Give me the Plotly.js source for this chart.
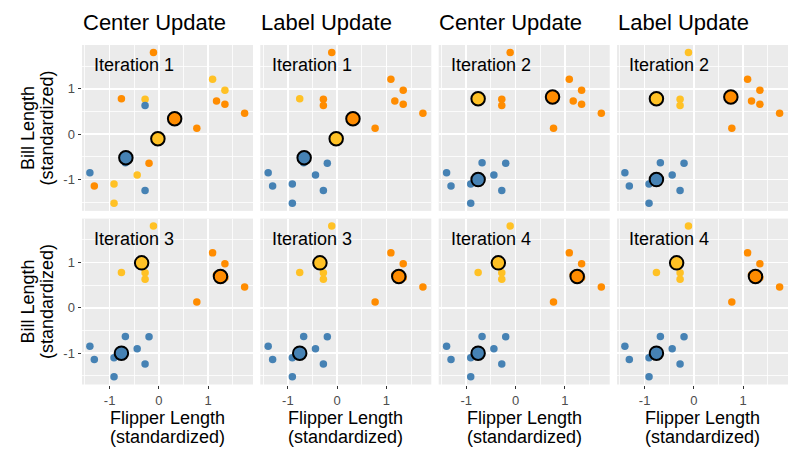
<!DOCTYPE html>
<html>
<head>
<meta charset="utf-8">
<script src="https://cdn.plot.ly/plotly-3.0.1.min.js"></script>
<style>html,body{margin:0;padding:0;background:#fff;}#chart{width:800px;height:456px;}</style>
</head>
<body>
<div id="chart"></div>
<script>
// ---- data (standardized flipper length / bill length) ----
const pointX = [-0.11, 1.09, 1.34, 1.17, 1.34, 1.74, -0.76, -0.28, -0.28, 0.77, -0.20, -0.68, -1.40, -0.44, -1.31, -0.91, -0.28, -0.91];
const pointY = [1.80, 1.21, 0.97, 0.73, 0.66, 0.46, 0.78, 0.77, 0.63, 0.13, -0.64, -0.63, -0.85, -0.90, -1.14, -1.10, -1.24, -1.52];

// cluster labels: 0 = blue, 1 = yellow, 2 = orange
const labelsStart = [2, 1, 1, 2, 2, 2, 2, 1, 0, 2, 2, 0, 0, 1, 2, 1, 0, 1];
const labelsAfter1 = [2, 2, 2, 2, 2, 2, 1, 2, 2, 2, 0, 0, 0, 0, 0, 0, 0, 0];
const labelsAfter2 = [1, 2, 2, 2, 2, 2, 1, 1, 1, 2, 0, 0, 0, 0, 0, 0, 0, 0];

// cluster centers per iteration (blue, yellow, orange)
const centers1X = [-0.67, -0.02, 0.32];
const centers1Y = [-0.52, -0.10, 0.34];
const centers2X = [-0.76, -0.76, 0.75];
const centers2Y = [-1.00, 0.78, 0.82];
const centers3X = [-0.76, -0.35, 1.25];
const centers3Y = [-1.00, 0.99, 0.69];
const centers4X = [-0.76, -0.35, 1.25];
const centers4Y = [-1.00, 0.99, 0.69];

const clusterColors = ['#4682B4', '#FFC125', '#FF8C00'];
const stepTitles = ['Center Update', 'Label Update', 'Center Update', 'Label Update'];
const iterationNames = ['Iteration 1', 'Iteration 1', 'Iteration 2', 'Iteration 2', 'Iteration 3', 'Iteration 3', 'Iteration 4', 'Iteration 4'];
const tickValues = [-1, 0, 1];
const tickLabels = ['-1', '0', '1'];
const minorValues = [-1.5, -0.5, 0.5, 1.5];
const xTitleLines = ['Flipper Length', '(standardized)'];
const yTitleLines = ['Bill Length', '(standardized)'];

const panels = [
  {labels: labelsStart, cx: centers1X, cy: centers1Y},
  {labels: labelsAfter1, cx: centers1X, cy: centers1Y},
  {labels: labelsAfter1, cx: centers2X, cy: centers2Y},
  {labels: labelsAfter2, cx: centers2X, cy: centers2Y},
  {labels: labelsAfter2, cx: centers3X, cy: centers3Y},
  {labels: labelsAfter2, cx: centers3X, cy: centers3Y},
  {labels: labelsAfter2, cx: centers4X, cy: centers4Y},
  {labels: labelsAfter2, cx: centers4X, cy: centers4Y}
];

// ---- layout geometry (pixels) ----
const W = 800, H = 456;
const colLeft = [82, 260.3, 438.7, 617];
const panelW = 171;
const rowTop = [45, 218.6];
const panelH = 165.9;
const px = v => v / W;
const py = v => 1 - v / H;

const FONT = 'Liberation Sans, Arial, Helvetica, sans-serif';
const traces = [];
const layout = {
  width: W, height: H,
  margin: {l: 0, r: 0, t: 0, b: 0},
  paper_bgcolor: '#FFFFFF',
  plot_bgcolor: '#EBEBEB',
  showlegend: false,
  font: {family: FONT, color: '#000000'},
  annotations: []
};

panels.forEach((p, i) => {
  const r = Math.floor(i / 4), c = i % 4;
  const n = i + 1;
  const xa = 'x' + (n === 1 ? '' : n), ya = 'y' + (n === 1 ? '' : n);
  traces.push({
    type: 'scatter', mode: 'markers', xaxis: xa, yaxis: ya,
    x: pointX, y: pointY,
    marker: {size: 7.5, color: p.labels.map(l => clusterColors[l]), line: {width: 0}},
    hoverinfo: 'skip'
  });
  traces.push({
    type: 'scatter', mode: 'markers', xaxis: xa, yaxis: ya,
    x: p.cx, y: p.cy,
    marker: {size: 13.5, color: clusterColors, line: {width: 2, color: '#000000'}},
    hoverinfo: 'skip'
  });
  const axCommon = {
    tickmode: 'array', tickvals: tickValues, ticktext: tickLabels,
    showgrid: true, gridcolor: '#FFFFFF', gridwidth: 1.6,
    minor: {tickmode: 'array', tickvals: minorValues, showgrid: true, gridcolor: '#FFFFFF', gridwidth: 0.8, ticks: ''},
    zeroline: false, showline: false, fixedrange: true,
    tickfont: {family: FONT, size: 13, color: '#4D4D4D'},
    tickcolor: '#333333', ticklen: 3.5, tickwidth: 1
  };
  layout['xaxis' + (n === 1 ? '' : n)] = Object.assign({}, axCommon, {
    domain: [px(colLeft[c]), px(colLeft[c] + panelW)],
    range: [-1.56, 1.91], anchor: ya,
    showticklabels: r === 1, ticks: r === 1 ? 'outside' : ''
  });
  layout['yaxis' + (n === 1 ? '' : n)] = Object.assign({}, axCommon, {
    domain: [py(rowTop[r] + panelH), py(rowTop[r])],
    range: [-1.69, 1.965], anchor: xa,
    showticklabels: c === 0, ticks: c === 0 ? 'outside' : ''
  });
  layout.annotations.push({
    text: iterationNames[i], xref: 'paper', yref: 'paper',
    x: px(colLeft[c] + 9.8), y: py(rowTop[r] + 20), xanchor: 'left', yanchor: 'middle',
    showarrow: false, font: {family: FONT, size: 18, color: '#000000'}
  });
});

// column titles
stepTitles.forEach((t, c) => {
  layout.annotations.push({
    text: t, xref: 'paper', yref: 'paper',
    x: px(colLeft[c] - 1.5), y: py(23), xanchor: 'left', yanchor: 'middle',
    showarrow: false, font: {family: FONT, size: 22, color: '#000000'}
  });
});
// x axis titles
colLeft.forEach((l) => {
  xTitleLines.forEach((t, k) => {
    layout.annotations.push({
      text: t, xref: 'paper', yref: 'paper',
      x: px(l + panelW / 2), y: py(418 + k * 18.5), xanchor: 'center', yanchor: 'middle',
      showarrow: false, font: {family: FONT, size: 18, color: '#000000'}
    });
  });
});
// y axis titles
rowTop.forEach((t0) => {
  yTitleLines.forEach((t, k) => {
    layout.annotations.push({
      text: t, xref: 'paper', yref: 'paper', textangle: -90,
      x: px(28 + k * 18.5), y: py(t0 + panelH / 2), xanchor: 'center', yanchor: 'middle',
      showarrow: false, font: {family: FONT, size: 18, color: '#000000'}
    });
  });
});

Plotly.newPlot('chart', traces, layout, {staticPlot: true, displayModeBar: false});
</script>
</body>
</html>
